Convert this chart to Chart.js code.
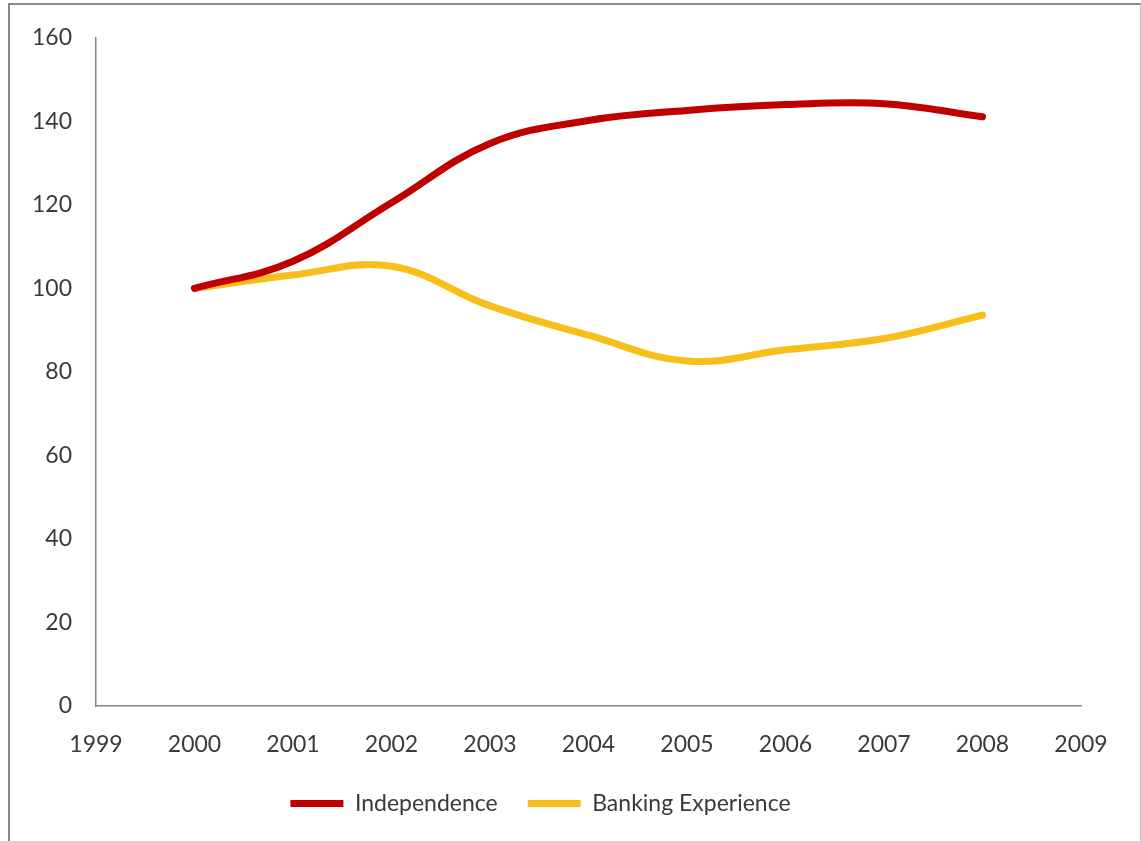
<!DOCTYPE html>
<html>
<head>
<meta charset="utf-8">
<script src="https://cdn.jsdelivr.net/npm/chart.js@4.4.1/dist/chart.umd.min.js"></script>
<style>
  body { margin: 0; background: #fff; overflow: hidden; }
  #frame {
    position: absolute; left: 8px; top: 3px; width: 1130px; height: 900px;
    border-left: 2px solid #8a8a8a; border-top: 2px solid #8a8a8a; border-right: 1px solid #c4c4c4;
  }
  #wrap { position: absolute; left: 0; top: 0; width: 1141px; height: 841px; }
</style>
</head>
<body>
<div id="frame"></div>
<div id="wrap"><canvas id="chart" width="1141" height="841"></canvas></div>
<script>
// Data
const years = [2000, 2001, 2002, 2003, 2004, 2005, 2006, 2007, 2008];
const independence = [100, 106.5, 120.5, 134.7, 140.2, 142.6, 144, 144.2, 141.1];
const bankingExperience = [100, 103.2, 105.3, 95.8, 88.8, 82.6, 85.3, 88, 93.6];
const seriesNames = ['Independence', 'Banking Experience'];

const textColor = '#3a3a3a';
const axisColor = '#868686';
const fontFamily = 'Lato, "Liberation Sans", sans-serif';

const toPoints = (vals) => years.map((y, i) => ({ x: y, y: vals[i] }));

const ctx = document.getElementById('chart').getContext('2d');
const chart = new Chart(ctx, {
  type: 'line',
  data: {
    datasets: [
      {
        label: seriesNames[0],
        data: toPoints(independence),
        borderColor: '#C00000',
        backgroundColor: '#C00000',
        borderWidth: 7,
        borderCapStyle: 'round',
        pointRadius: 0,
        tension: 0.4
      },
      {
        label: seriesNames[1],
        data: toPoints(bankingExperience),
        borderColor: '#F8BE1A',
        backgroundColor: '#F8BE1A',
        borderWidth: 7,
        borderCapStyle: 'round',
        pointRadius: 0,
        tension: 0.4
      }
    ]
  },
  options: {
    responsive: false,
    animation: false,
    layout: { padding: { left: 0, top: 34, right: 60, bottom: 16 } },
    scales: {
      x: {
        type: 'linear',
        min: 1999,
        max: 2009,
        grid: { display: false, drawTicks: false },
        border: { display: true, color: axisColor, width: 1.5 },
        ticks: {
          stepSize: 1,
          padding: 25,
          color: textColor,
          font: { family: fontFamily, size: 23 },
          callback: (v) => String(v)
        },
        afterFit: (s) => { s.height = 56; }
      },
      y: {
        min: 0,
        max: 160,
        grid: { display: false, drawTicks: false },
        border: { display: true, color: axisColor, width: 1.5 },
        ticks: {
          stepSize: 20,
          padding: 24,
          color: textColor,
          font: { family: fontFamily, size: 23 }
        },
        afterFit: (s) => { s.width = 96; }
      }
    },
    plugins: {
      legend: {
        position: 'bottom',
        labels: {
          usePointStyle: true,
          pointStyleWidth: 53,
          pointStyle: 'line',
          boxHeight: 7,
          padding: 30,
          color: textColor,
          font: { family: fontFamily, size: 23 }
        }
      },
      tooltip: { enabled: false }
    }
  }
});
</script>
</body>
</html>
